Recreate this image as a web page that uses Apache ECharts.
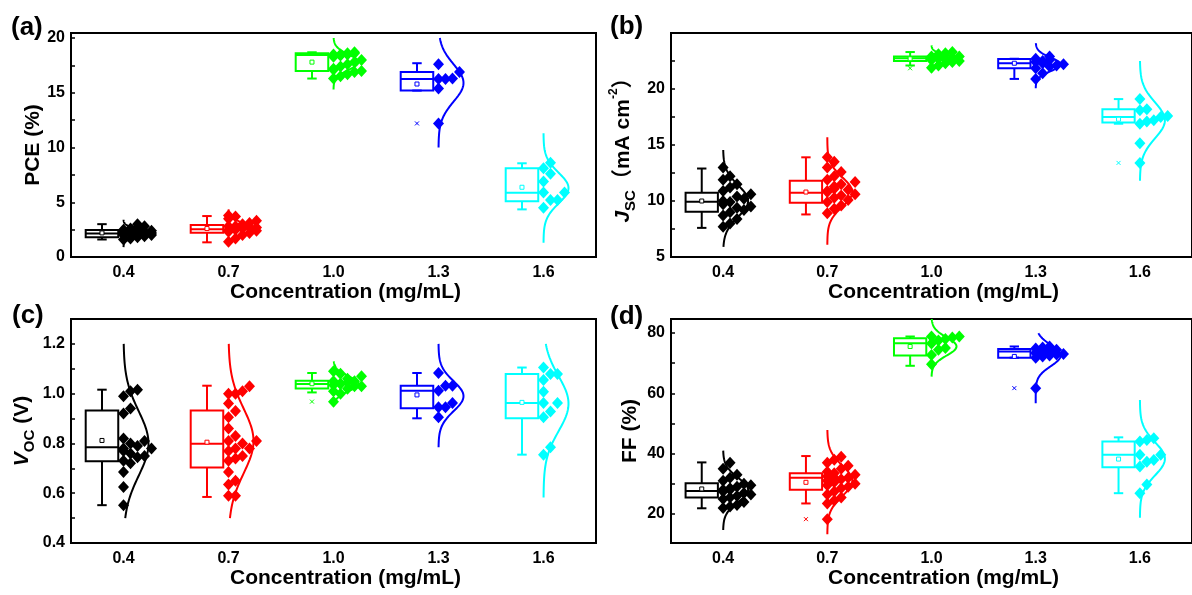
<!DOCTYPE html>
<html>
<head>
<meta charset="utf-8">
<script src="https://cdn.jsdelivr.net/npm/echarts@6/dist/echarts.min.js"></script>
<style>
html, body { margin: 0; padding: 0; background: #fff; }
#chart { width: 1192px; height: 595px; }
</style>
</head>
<body>
<div id="chart"></div>
<script>
const categories = ['0.4', '0.7', '1.0', '1.3', '1.6']
const groupColors = ['#000000', '#ff0000', '#00ff00', '#0000ff', '#00ffff']

// (a) PCE (%)
const pcePoints = [
  [1.6, 1.7, 1.8, 1.9, 2.0, 2.0, 2.1, 2.1, 2.2, 2.2, 2.2, 2.3, 2.3, 2.3, 2.4, 2.4, 2.5, 2.5, 2.6, 2.7, 2.8, 3.0],
  [1.4, 1.7, 2.0, 2.2, 2.3, 2.4, 2.5, 2.5, 2.6, 2.6, 2.7, 2.7, 2.8, 2.8, 2.9, 3.0, 3.1, 3.3, 3.5, 3.7, 3.8],
  [16.3, 16.5, 16.7, 16.9, 17.0, 17.1, 17.2, 17.4, 17.6, 17.8, 18.0, 18.3, 18.4, 18.5, 18.5, 18.5, 18.6, 18.6, 18.7],
  [12.2, 15.4, 16.25, 16.25, 16.3, 16.9, 17.6],
  [4.5, 5.2, 5.2, 5.9, 5.9, 6.9, 7.6, 8.1, 8.6]
]
// [whisker low, Q1, median, Q3, whisker high, mean]
const pceBoxes = [
  [1.6, 1.8, 2.15, 2.47, 3.0, 2.2],
  [1.34, 2.22, 2.53, 2.92, 3.74, 2.6],
  [16.3, 17.0, 18.45, 18.6, 18.7, 17.8],
  [15.2, 15.2, 16.25, 16.9, 17.7, 15.8],
  [4.35, 5.1, 5.87, 8.1, 8.56, 6.37]
]
const pceOutliers = [[3, 12.2]]
// normal curve: [mean, sd, from, to]
const pceCurves = [
  [2.2, 0.35, 0.9, 3.4],
  [2.6, 0.5, 1.1, 4.35],
  [17.8, 0.7, 15.3, 20.0],
  [15.9, 1.7, 10.0, 20.0],
  [6.3, 1.4, 1.3, 11.3]
]
const pceRange = [0, 20.46]
const pceTicks = [0, 2.5, 5, 7.5, 10, 12.5, 15, 17.5, 20]
const pceLabels = [0, 5, 10, 15, 20]

// (b) Jsc (mA cm-2)
const jscPoints = [
  [7.7, 8.0, 8.4, 8.7, 9.0, 9.2, 9.4, 9.5, 9.7, 9.9, 10.0, 10.2, 10.4, 10.6, 10.9, 11.2, 11.5, 11.9, 12.2, 13.0],
  [8.9, 9.3, 9.6, 9.9, 10.1, 10.3, 10.5, 10.6, 10.8, 10.9, 11.0, 11.1, 11.3, 11.5, 11.7, 11.9, 12.2, 12.6, 13.0, 13.5, 13.9],
  [21.9, 22.1, 22.3, 22.4, 22.5, 22.6, 22.7, 22.7, 22.8, 22.8, 22.9, 22.9, 23.0, 23.1, 23.2, 23.3],
  [20.9, 21.4, 21.85, 22.0, 22.1, 22.2, 22.3, 22.4, 22.5, 22.6, 22.7, 22.9],
  [13.4, 15.15, 16.9, 17.1, 17.2, 17.5, 17.6, 18.1, 18.2, 19.1]
]
const jscBoxes = [
  [7.6, 9.04, 9.94, 10.74, 12.9, 10.0],
  [8.8, 9.85, 10.74, 11.8, 13.9, 10.8],
  [22.1, 22.5, 22.75, 22.9, 23.3, 22.7],
  [20.9, 21.85, 22.3, 22.68, 22.7, 22.3],
  [16.9, 17.0, 17.5, 18.2, 19.1, 17.3]
]
const jscOutliers = [[2, 21.85], [4, 13.4]]
const jscCurves = [
  [10.0, 1.4, 5.9, 14.55],
  [10.8, 1.3, 6.1, 15.7],
  [22.7, 0.35, 21.5, 23.9],
  [22.2, 0.6, 20.06, 24.1],
  [17.2, 1.6, 11.8, 22.5]
]
const jscRange = [5, 25]
const jscTicks = [5, 7.5, 10, 12.5, 15, 17.5, 20, 22.5]
const jscLabels = [5, 10, 15, 20]

// (c) Voc (V)
const vocPoints = [
  [0.552, 0.625, 0.685, 0.72, 0.73, 0.745, 0.75, 0.76, 0.77, 0.78, 0.78, 0.79, 0.80, 0.81, 0.82, 0.92, 0.94, 0.99, 1.01, 1.016],
  [0.59, 0.59, 0.635, 0.65, 0.685, 0.73, 0.74, 0.75, 0.77, 0.78, 0.78, 0.80, 0.81, 0.81, 0.83, 0.86, 0.905, 0.93, 0.96, 1.0, 1.0, 1.01, 1.03],
  [0.968, 1.0, 1.01, 1.02, 1.03, 1.03, 1.035, 1.04, 1.04, 1.045, 1.05, 1.05, 1.06, 1.07, 1.08, 1.09],
  [0.905, 0.945, 0.945, 0.963, 1.012, 1.032, 1.032, 1.083],
  [0.755, 0.785, 0.905, 0.928, 0.963, 0.963, 1.008, 1.055, 1.079, 1.079, 1.105]
]
const vocBoxes = [
  [0.552, 0.728, 0.785, 0.932, 1.016, 0.812],
  [0.585, 0.703, 0.799, 0.932, 1.032, 0.805],
  [1.005, 1.021, 1.039, 1.052, 1.083, 1.04],
  [0.901, 0.941, 1.012, 1.032, 1.083, 0.995],
  [0.755, 0.901, 0.963, 1.079, 1.105, 0.965]
]
const vocOutliers = [[2, 0.968]]
const vocCurves = [
  [0.80, 0.13, 0.5, 1.2],
  [0.81, 0.13, 0.5, 1.2],
  [1.04, 0.03, 0.95, 1.13],
  [0.99, 0.06, 0.785, 1.2],
  [0.96, 0.11, 0.583, 1.2]
]
const vocRange = [0.4, 1.3]
const vocTicks = [0.4, 0.5, 0.6, 0.7, 0.8, 0.9, 1.0, 1.1, 1.2]
const vocLabels = [0.4, 0.6, 0.8, 1.0, 1.2]

// (d) FF (%)
const ffPoints = [
  [22, 22.5, 23, 24, 25, 25.5, 26, 26.5, 27, 27.5, 28, 28, 28.5, 29, 29.5, 30, 31, 32, 33, 35, 37],
  [18.3, 23.5, 24.5, 25.5, 26.5, 27.5, 28.5, 29, 29.5, 30, 30.5, 31, 31.5, 32, 32, 32.5, 33, 33.5, 34, 35, 36, 37, 38, 39],
  [69.6, 72.7, 74.4, 75, 76.5, 77.5, 78, 78.5, 78.8, 78.8],
  [61.7, 71.8, 72.2, 72.5, 72.8, 73, 73.3, 73.6, 74, 74.4, 74.8, 75.2, 75.5],
  [26.9, 29.8, 35.7, 37.3, 37.9, 39.6, 39.6, 44, 44.5, 45.1]
]
const ffBoxes = [
  [21.9, 25.5, 27.6, 30.2, 37.1, 28.3],
  [23.5, 28.0, 32.0, 33.5, 39.2, 30.5],
  [69.1, 72.5, 76.6, 78.2, 78.8, 75.5],
  [71.8, 71.8, 73.8, 74.7, 75.5, 72.2],
  [26.9, 35.5, 39.6, 44.0, 45.4, 38.2]
]
const ffOutliers = [[1, 18.3], [3, 61.7]]
const ffCurves = [
  [28, 4, 14.7, 41],
  [31, 5, 13.3, 47.8],
  [75.5, 3, 65.5, 84.6],
  [72.5, 3.5, 56.7, 79.9],
  [38.3, 5.5, 18.8, 57.8]
]
const ffRange = [10.4, 84.6]
const ffTicks = [20, 30, 40, 50, 60, 70, 80]
const ffLabels = [20, 40, 60, 80]

const FONT = 'Arial, "Liberation Sans", "Noto Sans CJK SC", sans-serif'
const GRID_W = 525
const GRID_H = 224
const BAND = GRID_W / categories.length

const panels = [
  { tag: '(a)', name: 'PCE (%)', points: pcePoints, boxes: pceBoxes, outliers: pceOutliers, curves: pceCurves, range: pceRange, ticks: pceTicks, labels: pceLabels, digits: 0 },
  { tag: '(b)', name: '{i|J}{s|SC}{n|（mA cm}{p|-2}{n|）}', points: jscPoints, boxes: jscBoxes, outliers: jscOutliers, curves: jscCurves, range: jscRange, ticks: jscTicks, labels: jscLabels, digits: 0 },
  { tag: '(c)', name: '{i|V}{s|OC}{n| (V)}', points: vocPoints, boxes: vocBoxes, outliers: vocOutliers, curves: vocCurves, range: vocRange, ticks: vocTicks, labels: vocLabels, digits: 1 },
  { tag: '(d)', name: 'FF (%)', points: ffPoints, boxes: ffBoxes, outliers: ffOutliers, curves: ffCurves, range: ffRange, ticks: ffTicks, labels: ffLabels, digits: 0 }
]

const frames = [
  { left: 71, top: 33, gap: 27, tag: [11, 15] },
  { left: 671, top: 33, gap: 33, tag: [610, 14] },
  { left: 71, top: 319, gap: 34, tag: [12, 303] },
  { left: 671, top: 319, gap: 30, tag: [610, 304] }
]

// spread the points of one group over a few columns right of the category
function swarmOffsets (values, pxPerUnit) {
  const order = values.map((v, i) => i).sort((a, b) => values[a] - values[b])
  const placed = []
  const out = []
  order.forEach(i => {
    let best = 0
    let bestHits = Infinity
    for (let k = 0; k < 5; k++) {
      const hits = placed.filter(p => p.k === k && Math.abs(p.v - values[i]) * pxPerUnit < 9).length
      if (hits < bestHits) { best = k; bestHits = hits }
      if (hits === 0) break
    }
    placed.push({ k: best, v: values[i] })
    out[i] = best * 7
  })
  return out
}

function renderBox (params, api) {
  const idx = api.value(0)
  const color = groupColors[idx]
  const band = api.size([1, 0])[0]
  const cx = api.coord([idx, 0])[0] - band * 0.205
  const hw = band * 0.155
  const cap = band * 0.045
  const y = k => api.coord([idx, api.value(k)])[1]
  const low = y(1)
  const q1 = y(2)
  const med = y(3)
  const q3 = y(4)
  const high = y(5)
  const mean = y(6)
  const line = (x1, y1, x2, y2) => ({ type: 'line', shape: { x1, y1, x2, y2 }, style: { stroke: color, lineWidth: 2 } })
  return {
    type: 'group',
    children: [
      { type: 'rect', shape: { x: cx - hw, y: q3, width: hw * 2, height: q1 - q3 }, style: { stroke: color, fill: 'none', lineWidth: 2 } },
      line(cx - hw, med, cx + hw, med),
      line(cx, q3, cx, high),
      line(cx - cap, high, cx + cap, high),
      line(cx, q1, cx, low),
      line(cx - cap, low, cx + cap, low),
      { type: 'rect', shape: { x: cx - 2, y: mean - 2, width: 4, height: 4 }, style: { stroke: color, fill: '#fff', lineWidth: 1 } }
    ]
  }
}

function renderOutlier (params, api) {
  const idx = api.value(0)
  const band = api.size([1, 0])[0]
  const p = api.coord([idx, api.value(1)])
  const cx = p[0] - band * 0.205
  const st = { stroke: groupColors[idx], lineWidth: 1 }
  return {
    type: 'group',
    children: [
      { type: 'line', shape: { x1: cx - 2, y1: p[1] - 2, x2: cx + 2, y2: p[1] + 2 }, style: st },
      { type: 'line', shape: { x1: cx - 2, y1: p[1] + 2, x2: cx + 2, y2: p[1] - 2 }, style: st }
    ]
  }
}

// fitted normal curve drawn to the right of the category position
function renderCurve (params, api) {
  const idx = api.value(0)
  const mean = api.value(1)
  const sd = api.value(2)
  const from = api.value(3)
  const to = api.value(4)
  const x0 = api.coord([idx, mean])[0]
  const pts = []
  for (let s = 0; s <= 80; s++) {
    const v = from + (to - from) * s / 80
    const d = Math.exp(-0.5 * Math.pow((v - mean) / sd, 2))
    pts.push([x0 + 25 * d, api.coord([idx, v])[1]])
  }
  return { type: 'polyline', shape: { points: pts }, style: { stroke: groupColors[idx], lineWidth: 2, fill: 'none' } }
}

const grid = []
const xAxis = []
const yAxis = []
const series = []
const graphic = []

const nameRich = {
  n: { fontSize: 21, fontWeight: 'bold', fontFamily: FONT, lineHeight: 30 },
  i: { fontSize: 21, fontWeight: 'bold', fontStyle: 'italic', fontFamily: FONT, lineHeight: 30 },
  s: { fontSize: 15, fontWeight: 'bold', fontFamily: FONT, verticalAlign: 'bottom', lineHeight: 30 },
  p: { fontSize: 12, fontWeight: 'bold', fontFamily: FONT, verticalAlign: 'top', lineHeight: 30 }
}

panels.forEach((p, i) => {
  const f = frames[i]
  grid.push({ left: f.left, top: f.top, width: GRID_W, height: GRID_H, show: true, borderColor: '#000', borderWidth: 2 })

  xAxis.push({
    type: 'category',
    gridIndex: i,
    data: categories,
    boundaryGap: true,
    axisLine: { lineStyle: { color: '#000', width: 2 } },
    axisTick: { alignWithLabel: true, inside: true, length: 5, lineStyle: { width: 2 } },
    axisLabel: { color: '#000', fontSize: 16, fontWeight: 'bold', fontFamily: FONT, margin: 8 },
    name: 'Concentration (mg/mL)',
    nameLocation: 'middle',
    nameGap: 23,
    nameTextStyle: { color: '#000', fontSize: 21, fontWeight: 'bold', fontFamily: FONT, padding: [0, 0, 0, 24] }
  })
  xAxis.push({ type: 'value', gridIndex: i, min: -0.5, max: 4.5, show: false })

  yAxis.push({
    type: 'value',
    gridIndex: i,
    min: p.range[0],
    max: p.range[1],
    splitLine: { show: false },
    axisLine: { show: true, onZero: false, lineStyle: { color: '#000', width: 2 } },
    axisTick: { show: true, inside: true, length: 4, lineStyle: { width: 1.5 }, customValues: p.ticks },
    axisLabel: {
      color: '#000', fontSize: 16, fontWeight: 'bold', fontFamily: FONT, margin: 6,
      customValues: p.labels,
      formatter: v => Number(v).toFixed(p.digits)
    },
    name: p.name,
    nameLocation: 'middle',
    nameRotate: 90,
    nameGap: f.gap,
    nameTextStyle: { color: '#000', fontSize: 21, fontWeight: 'bold', fontFamily: FONT, rich: nameRich }
  })

  const pxPerUnit = GRID_H / (p.range[1] - p.range[0])
  const xi = i * 2 + 1

  series.push({
    type: 'custom',
    xAxisIndex: xi,
    yAxisIndex: i,
    z: 2,
    renderItem: renderBox,
    encode: { x: 0, y: [1, 2, 3, 4, 5, 6] },
    data: p.boxes.map((b, k) => [k].concat(b))
  })
  series.push({
    type: 'custom',
    xAxisIndex: xi,
    yAxisIndex: i,
    z: 2,
    renderItem: renderOutlier,
    encode: { x: 0, y: 1 },
    data: p.outliers
  })
  series.push({
    type: 'custom',
    xAxisIndex: xi,
    yAxisIndex: i,
    z: 3,
    renderItem: renderCurve,
    encode: { x: 0, y: 1 },
    data: p.curves.map((c, k) => [k].concat(c))
  })
  p.points.forEach((vals, k) => {
    const offs = swarmOffsets(vals, pxPerUnit)
    series.push({
      type: 'scatter',
      xAxisIndex: xi,
      yAxisIndex: i,
      z: 4,
      symbol: 'diamond',
      symbolSize: [11, 12],
      itemStyle: { color: groupColors[k], opacity: 1 },
      data: vals.map((v, j) => [k + offs[j] / BAND, v])
    })
  })

  graphic.push({
    type: 'text',
    left: f.tag[0],
    top: f.tag[1],
    style: { text: p.tag, fill: '#000', font: 'bold 26px ' + FONT }
  })
})

const chart = echarts.init(document.getElementById('chart'))
chart.setOption({
  animation: false,
  backgroundColor: '#fff',
  grid,
  xAxis,
  yAxis,
  series,
  graphic
})
</script>
</body>
</html>
